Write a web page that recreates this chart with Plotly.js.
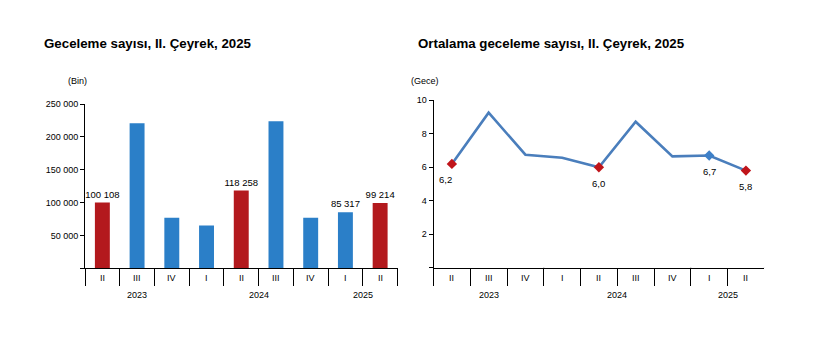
<!DOCTYPE html>
<html>
<head>
<meta charset="utf-8">
<script src="https://cdn.plot.ly/plotly-3.0.1.min.js"></script>
<style>html,body{margin:0;padding:0;background:#fff;}#chart{width:813px;height:342px;}</style>
</head>
<body>
<div id="chart"></div>
<script>
// ---- data ----
const years = ['2023','2023','2023','2024','2024','2024','2024','2025','2025'];
const quarters = ['II','III','IV','I','II','III','IV','I','II'];
const overnightStays = [100108, 220800, 76800, 65200, 118258, 223800, 76800, 85317, 99214]; // thousand
const avgNights = [6.2, 9.26, 6.75, 6.57, 6.0, 8.72, 6.65, 6.7, 5.8];
const labelled = [true, false, false, false, true, false, false, true, true];
const leftTitle = 'Geceleme sayısı, II. Çeyrek, 2025';
const rightTitle = 'Ortalama geceleme sayısı, II. Çeyrek, 2025';
const leftUnit = '(Bin)';
const rightUnit = '(Gece)';
const leftTicks = [0, 50000, 100000, 150000, 200000, 250000];
const rightTicks = [0, 2, 4, 6, 8, 10];

// ---- helpers ----
const W = 813, H = 342;
const FONT = 'Liberation Sans, Arial, sans-serif';
const px = v => v / W;
const py = v => (H - v) / H;
const cats = years.map((y, i) => y + '-' + quarters[i]);
const RED = '#B3191D', BLUE = '#2B7FC8', LINE = '#4A7EBC', DRED = '#C0141A';
const fmtThousands = v => String(v).replace(/\B(?=(\d{3})+(?!\d))/g, ' ');
const fmtDec = v => v.toFixed(1).replace('.', ',');

const barColors = quarters.map(q => q === 'II' ? RED : BLUE);
const barText = overnightStays.map((v, i) => labelled[i] ? fmtThousands(v) : '');

const traces = [
  {
    type: 'bar', x: cats, y: overnightStays, xaxis: 'x', yaxis: 'y',
    marker: {color: barColors}, text: barText, textposition: 'outside', constraintext: 'none',
    textfont: {family: FONT, size: 9.5, color: '#000'}, cliponaxis: false,
    hoverinfo: 'skip'
  },
  {
    type: 'scatter', mode: 'lines', x: cats, y: avgNights, xaxis: 'x2', yaxis: 'y2',
    line: {color: LINE, width: 2.6}, hoverinfo: 'skip'
  },
  {
    type: 'scatter', mode: 'markers',
    x: cats.filter((c, i) => labelled[i]),
    y: avgNights.filter((v, i) => labelled[i]),
    xaxis: 'x2', yaxis: 'y2',
    marker: {symbol: 'diamond', size: 8,
      color: quarters.filter((q, i) => labelled[i]).map(q => q === 'II' ? DRED : '#3E80C8')},
    cliponaxis: false, hoverinfo: 'skip'
  }
];

// year groups
const groups = [];
years.forEach((y, i) => {
  if (!groups.length || groups[groups.length - 1].year !== y) groups.push({year: y, start: i, end: i});
  else groups[groups.length - 1].end = i;
});

const annotations = [];
const shapes = [];
[['x', 'y'], ['x2', 'y2']].forEach(([xa, ya]) => {
  quarters.forEach((q, i) => annotations.push({
    xref: xa, yref: ya, x: i, y: 0, yshift: -10, yanchor: 'middle', showarrow: false,
    text: q, font: {family: FONT, size: 9, color: '#000'}
  }));
  groups.forEach(g => {
    annotations.push({
      xref: xa, yref: ya, x: (g.start + g.end) / 2, y: 0, yshift: -27, yanchor: 'middle',
      showarrow: false, text: g.year, font: {family: FONT, size: 9, color: '#000'}
    });
    shapes.push({type: 'line', xref: xa, yref: ya, ysizemode: 'pixel', yanchor: 0,
      x0: g.start - 0.5, x1: g.start - 0.5, y0: 0, y1: -35, line: {color: '#000', width: 1}});
  });
  shapes.push({type: 'line', xref: xa, yref: ya, ysizemode: 'pixel', yanchor: 0,
    x0: years.length - 0.5, x1: years.length - 0.5, y0: 0, y1: -35, line: {color: '#000', width: 1}});
});

// point labels on line
const lblShift = [-6, 0, 0, 0, 0, 0, 0, 0, 0];
avgNights.forEach((v, i) => {
  if (labelled[i]) annotations.push({
    xref: 'x2', yref: 'y2', x: i, y: v, xshift: lblShift[i], yshift: -16, yanchor: 'middle',
    showarrow: false, text: fmtDec(v), font: {family: FONT, size: 9.5, color: '#000'}
  });
});

// titles and units
annotations.push(
  {xref: 'paper', yref: 'paper', x: px(42), y: py(43.5), xanchor: 'left', yanchor: 'middle', showarrow: false,
   text: '<b>' + leftTitle + '</b>', font: {family: FONT, size: 13.3, color: '#000'}},
  {xref: 'paper', yref: 'paper', x: px(416), y: py(43.5), xanchor: 'left', yanchor: 'middle', showarrow: false,
   text: '<b>' + rightTitle + '</b>', font: {family: FONT, size: 13.3, color: '#000'}},
  {xref: 'paper', yref: 'paper', x: px(77), y: py(80.5), xanchor: 'center', yanchor: 'middle', showarrow: false,
   text: leftUnit, font: {family: FONT, size: 9, color: '#000'}},
  {xref: 'paper', yref: 'paper', x: px(425), y: py(80.5), xanchor: 'center', yanchor: 'middle', showarrow: false,
   text: rightUnit, font: {family: FONT, size: 9, color: '#000'}}
);

const xCommon = {
  type: 'category', categoryorder: 'array', categoryarray: cats,
  showticklabels: false, ticks: 'outside', tickson: 'boundaries', ticklen: 17,
  tickcolor: '#000', tickwidth: 1, showline: true, linecolor: '#000', linewidth: 1,
  showgrid: false, zeroline: false, fixedrange: true
};
const yCommon = {
  ticks: 'outside', ticklen: 4, tickcolor: '#000', tickwidth: 1,
  showline: true, linecolor: '#000', linewidth: 1, showgrid: false, zeroline: false,
  tickfont: {family: FONT, size: 9, color: '#000'}, fixedrange: true
};

const layout = {
  width: W, height: H, margin: {l: 0, r: 0, t: 0, b: 0},
  paper_bgcolor: '#fff', plot_bgcolor: '#fff', showlegend: false,
  separators: ', ', bargap: 0.57,
  font: {family: FONT, color: '#000'},
  xaxis: Object.assign({}, xCommon, {domain: [px(85), px(397.5)], anchor: 'y', range: [-0.5, 8.5]}),
  yaxis: Object.assign({}, yCommon, {domain: [py(268.3), py(104)], anchor: 'x', range: [0, 250000],
    tickvals: leftTicks, ticktext: leftTicks.map(v => v === 0 ? '' : fmtThousands(v))}),
  xaxis2: Object.assign({}, xCommon, {domain: [px(433.5), px(764.3)], anchor: 'y2', range: [-0.5, 8.5]}),
  yaxis2: Object.assign({}, yCommon, {domain: [py(267.7), py(100.3)], anchor: 'x2', range: [0, 10],
    tickvals: rightTicks, ticktext: rightTicks.map(v => v === 0 ? '' : String(v))}),
  annotations: annotations, shapes: shapes
};

Plotly.newPlot('chart', traces, layout, {staticPlot: true, displayModeBar: false});
</script>
</body>
</html>
